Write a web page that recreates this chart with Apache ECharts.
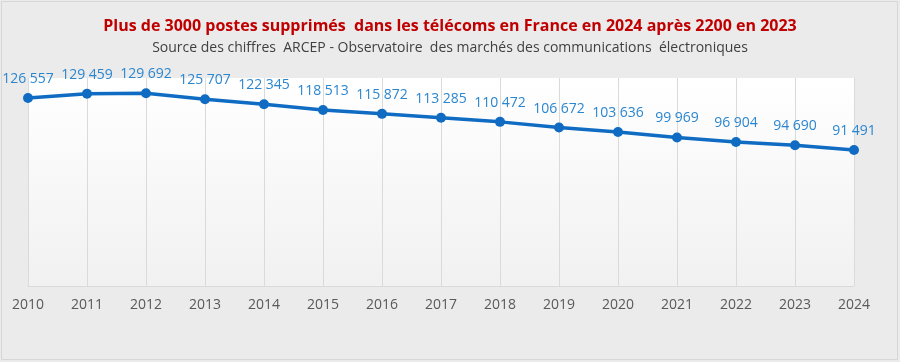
<!DOCTYPE html>
<html><head><meta charset="utf-8">
<script src="https://cdn.jsdelivr.net/npm/echarts@6/dist/echarts.min.js"></script>
<style>html,body{margin:0;padding:0;background:#ebebeb}#c{width:900px;height:362px}</style>
</head><body><div id="c"></div>
<script>
var years = ['2010','2011','2012','2013','2014','2015','2016','2017','2018','2019','2020','2021','2022','2023','2024'];
var postes = [126557,129459,129692,125707,122345,118513,115872,113285,110472,106672,103636,99969,96904,94690,91491];
var titleText = 'Plus de 3000 postes supprimés  dans les télécoms en France en 2024 après 2200 en 2023';
var subText = 'Source des chiffres  ARCEP - Observatoire  des marchés des communications  électroniques';

function fmt(v){ return String(v).replace(/\B(?=(\d{3})+(?!\d))/g, ' '); }

var chart = echarts.init(document.getElementById('c'));
chart.setOption({
  backgroundColor: '#ebebeb',
  animation: false,
  graphic: [{type:'rect', shape:{x:1.5,y:1.5,width:896,height:358}, style:{fill:'none', stroke:'#d6d6d6', lineWidth:1}}],
  title: [{
    text: titleText, left: 'center', top: 13,
    textStyle: {color:'#c00000', fontSize:16, fontWeight:'bold', fontFamily:'Open Sans'}
  },{
    text: subText, left: 'center', top: 36,
    textStyle: {color:'#404040', fontSize:14, fontWeight:'normal', fontFamily:'Open Sans'}
  }],
  grid: {left:28, right:46, top:78, bottom:76, show:true, borderWidth:0,
    backgroundColor: new echarts.graphic.LinearGradient(0,0,0,1,[{offset:0,color:'#ffffff'},{offset:1,color:'#f1f1f1'}])},
  xAxis: {type:'category', data: years, boundaryGap:false,
    axisLine:{lineStyle:{color:'#dadada', width:1}}, axisTick:{show:false},
    axisLabel:{color:'#595959', fontSize:14, margin:12, fontFamily:'Open Sans'},
    splitLine:{show:true, lineStyle:{color:'#dadada', width:1}}},
  yAxis: {type:'value', min:0, max:140000, show:false, splitLine:{show:false}},
  series: [{type:'line', data: postes, symbol:'circle', symbolSize:10,
    lineStyle:{color:'#0f6cc2', width:3.5}, itemStyle:{color:'#0f6cc2'},
    label:{show:true, position:'top', distance:7, color:'#2b86d0', fontSize:14, fontFamily:'Open Sans',
      formatter: function(p){ return fmt(p.value); }}
  }]
});
</script></body></html>
